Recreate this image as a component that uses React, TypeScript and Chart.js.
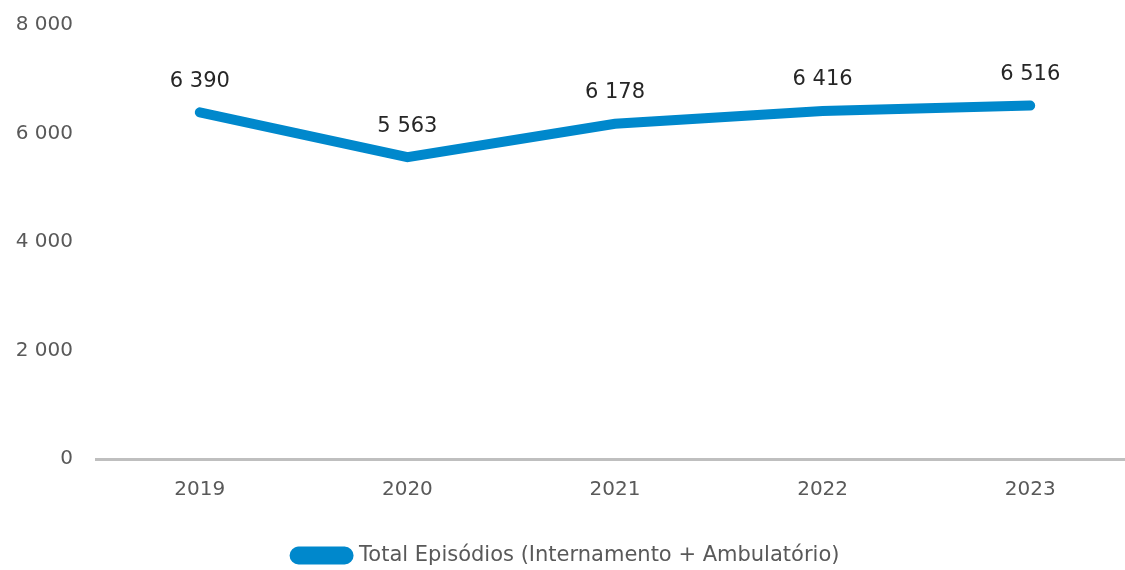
import React, { useEffect, useRef } from "react";
import { Chart, registerables } from "chart.js";

Chart.register(...registerables);

const categories = ["2019", "2020", "2021", "2022", "2023"];
const totalEpisodios = [6390, 5563, 6178, 6416, 6516];
const seriesLabel = "Total Episódios (Internamento + Ambulatório)";
const yTicks = [0, 2000, 4000, 6000, 8000];

const FONT = "'DejaVu Sans', sans-serif";

function fmt(v: number): string {
  return String(v).replace(/\B(?=(\d{3})+(?!\d))/g, " ");
}

const dataLabels = {
  id: "dataLabels",
  afterDatasetsDraw(chart: any) {
    const ctx = chart.ctx;
    const meta = chart.getDatasetMeta(0);
    ctx.save();
    ctx.font = `21px ${FONT}`;
    ctx.fillStyle = "#262626";
    ctx.textAlign = "center";
    ctx.textBaseline = "middle";
    meta.data.forEach((pt: any, i: number) => {
      ctx.fillText(fmt(totalEpisodios[i]), pt.x, pt.y - 31);
    });
    ctx.restore();
  },
};

export default function App() {
  const ref = useRef<HTMLCanvasElement | null>(null);
  useEffect(() => {
    if (!ref.current) return;
    const chart = new Chart(ref.current, {
      type: "line",
      data: {
        labels: categories,
        datasets: [
          {
            label: seriesLabel,
            data: totalEpisodios,
            borderColor: "#0088cc",
            backgroundColor: "#0088cc",
            borderWidth: 10,
            borderCapStyle: "round",
            borderJoinStyle: "miter",
            pointRadius: 0,
            pointHoverRadius: 0,
            tension: 0,
          },
        ],
      },
      options: {
        animation: false,
        responsive: true,
        maintainAspectRatio: false,
        layout: { padding: { top: 25, left: 0, right: 0, bottom: -6 } },
        plugins: {
          tooltip: { enabled: false },
          legend: {
            position: "bottom",
            labels: {
              boxWidth: 54,
              boxHeight: 8,
              useBorderRadius: true,
              borderRadius: 4,
              color: "#595959",
              font: { family: FONT, size: 21 },
              padding: 10,
            },
          },
        },
        scales: {
          x: {
            offset: true,
            afterFit: (s: any) => {
              s.height = 76;
              s.paddingLeft = 0;
              s.paddingRight = 0;
            },
            grid: { display: false, drawTicks: false, offset: true },
            border: { display: true, color: "#bfbfbf", width: 3 },
            ticks: {
              color: "#595959",
              font: { family: FONT, size: 20 },
              padding: 19,
            },
          },
          y: {
            min: 0,
            max: 8000,
            afterFit: (s: any) => {
              s.width = 96;
              s.paddingTop = 0;
              s.paddingBottom = 0;
            },
            afterBuildTicks: (s: any) => {
              s.ticks = yTicks.map((v) => ({ value: v }));
            },
            grid: { display: false, drawTicks: false },
            border: { display: false },
            ticks: {
              color: "#595959",
              font: { family: FONT, size: 20 },
              padding: 23,
              callback: (v: any) => fmt(Number(v)),
            },
          },
        },
      },
      plugins: [dataLabels],
    });
    return () => chart.destroy();
  }, []);
  return (
    <div style={{ position: "fixed", left: 0, top: 0, width: 1125, height: 570, overflow: "hidden", background: "#fff" }}>
      <div style={{ position: "absolute", left: 0, top: 0, width: 1134, height: 570 }}>
        <canvas ref={ref} />
      </div>
    </div>
  );
}
